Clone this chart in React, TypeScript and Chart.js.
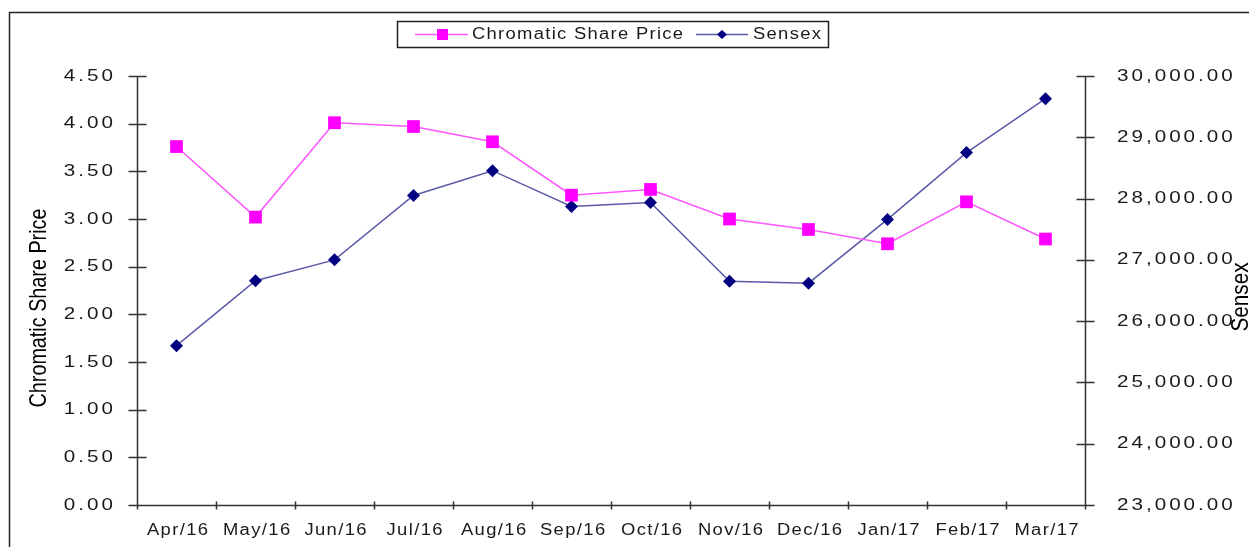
import React, { useEffect, useRef } from 'react';
import { Chart, registerables } from 'chart.js';

Chart.register(...registerables);

const months = ['Apr/16', 'May/16', 'Jun/16', 'Jul/16', 'Aug/16', 'Sep/16', 'Oct/16', 'Nov/16', 'Dec/16', 'Jan/17', 'Feb/17', 'Mar/17'];
const chromaticPrice = [3.76, 3.02, 4.01, 3.97, 3.81, 3.25, 3.31, 3.0, 2.89, 2.74, 3.18, 2.79];
const sensex = [25600, 26660, 27000, 28050, 28455, 27870, 27935, 26650, 26620, 27660, 28750, 29630];

const seriesNames = ['Chromatic Share Price', 'Sensex'];
const leftTitle = 'Chromatic Share Price';
const rightTitle = 'Sensex';

const PINK = '#FF00FF';
const PINK_LINE = '#FF55FF';
const NAVY = '#000080';
const NAVY_LINE = '#5A5AA8';
const FONT = '"Liberation Sans", Arial, sans-serif';
const NARROW = '"Liberation Sans Narrow", "Liberation Sans", Arial, sans-serif';

function fmtLeft(v: number) {
  return v.toFixed(2);
}
function fmtRight(v: number) {
  return v.toLocaleString('en-US', { minimumFractionDigits: 2, maximumFractionDigits: 2 });
}

function drawText(
  ctx: any,
  text: string,
  x: number,
  y: number,
  align: 'left' | 'right' | 'center',
  scaleX: number,
  spacing: number
) {
  ctx.save();
  ctx.letterSpacing = spacing + 'px';
  ctx.textAlign = 'left';
  const w = (ctx.measureText(text).width - spacing) * scaleX;
  let sx = x;
  if (align === 'right') sx = x - w;
  if (align === 'center') sx = x - w / 2;
  ctx.translate(sx, y);
  ctx.scale(scaleX, 1);
  ctx.fillText(text, 0, 0);
  ctx.restore();
}

function drawVertical(ctx: any, text: string, cx: number, cy: number, font: string, targetLen: number) {
  ctx.save();
  ctx.font = font;
  ctx.letterSpacing = '0px';
  const w = ctx.measureText(text).width;
  ctx.translate(cx, cy);
  ctx.rotate(-Math.PI / 2);
  ctx.scale(targetLen / w, 1);
  ctx.textAlign = 'center';
  ctx.textBaseline = 'middle';
  ctx.fillText(text, 0, 0);
  ctx.restore();
}

const decorPlugin = {
  id: 'decor',
  beforeDatasetsDraw(chart: any) {
    const { ctx, chartArea: a, scales } = chart;
    const xs = scales.x;
    const yl = scales.y;
    const yr = scales.y1;
    ctx.save();
    // outer frame
    ctx.strokeStyle = '#222';
    ctx.lineWidth = 1.5;
    ctx.beginPath();
    ctx.moveTo(9.5, 600);
    ctx.lineTo(9.5, 12.5);
    ctx.lineTo(1400, 12.5);
    ctx.stroke();

    // axes
    ctx.strokeStyle = '#333';
    ctx.lineWidth = 1.5;
    ctx.beginPath();
    const L = Math.round(a.left) + 0.5;
    const R = Math.round(a.right) + 0.5;
    const B = Math.round(a.bottom) + 0.5;
    ctx.moveTo(L, Math.round(a.top));
    ctx.lineTo(L, B);
    ctx.moveTo(R, Math.round(a.top));
    ctx.lineTo(R, B);
    ctx.moveTo(L - 9, B);
    ctx.lineTo(R + 9, B);
    yl.ticks.forEach((t: any) => {
      const py = Math.round(yl.getPixelForValue(t.value)) + 0.5;
      ctx.moveTo(L - 9, py);
      ctx.lineTo(L + 9, py);
    });
    yr.ticks.forEach((t: any) => {
      const py = Math.round(yr.getPixelForValue(t.value)) + 0.5;
      ctx.moveTo(R - 9, py);
      ctx.lineTo(R + 9, py);
    });
    for (let i = 0; i <= months.length; i++) {
      const px = Math.round(xs.getPixelForValue(i - 0.5)) + 0.5;
      ctx.moveTo(px, B - 4);
      ctx.lineTo(px, B + 4);
    }
    ctx.stroke();

    // tick labels
    ctx.fillStyle = '#1a1a1a';
    ctx.font = '16.5px ' + FONT;
    ctx.textBaseline = 'middle';
    yl.ticks.forEach((t: any) => {
      const py = yl.getPixelForValue(t.value);
      drawText(ctx, fmtLeft(t.value), 113, py, 'right', 1.25, 2.4);
    });
    yr.ticks.forEach((t: any) => {
      const py = yr.getPixelForValue(t.value);
      drawText(ctx, fmtRight(t.value), 1117, py, 'left', 1.25, 2.4);
    });
    ctx.font = '16px ' + FONT;
    ctx.textBaseline = 'alphabetic';
    months.forEach((m, i) => {
      const px = xs.getPixelForValue(i);
      drawText(ctx, m, px + 1, 535, 'center', 1.15, 1.2);
    });

    // axis titles
    ctx.fillStyle = '#000';
    drawVertical(ctx, leftTitle, 39, 308, '24px ' + NARROW, 199);
    drawVertical(ctx, rightTitle, 1241, 297, '24px ' + NARROW, 69);

    // legend
    ctx.strokeStyle = '#222';
    ctx.lineWidth = 1.5;
    ctx.strokeRect(397.5, 21.5, 431, 26);
    ctx.lineWidth = 1.5;
    ctx.strokeStyle = PINK_LINE;
    ctx.beginPath();
    ctx.moveTo(415, 34.5);
    ctx.lineTo(468, 34.5);
    ctx.stroke();
    ctx.fillStyle = PINK;
    ctx.fillRect(437, 29, 11, 11);
    ctx.strokeStyle = NAVY_LINE;
    ctx.beginPath();
    ctx.moveTo(696, 34.5);
    ctx.lineTo(748, 34.5);
    ctx.stroke();
    ctx.fillStyle = NAVY;
    ctx.beginPath();
    ctx.moveTo(722, 30);
    ctx.lineTo(727, 34.5);
    ctx.lineTo(722, 39);
    ctx.lineTo(717, 34.5);
    ctx.closePath();
    ctx.fill();
    ctx.fillStyle = '#1a1a1a';
    ctx.font = '16px ' + FONT;
    ctx.textBaseline = 'middle';
    drawText(ctx, seriesNames[0], 472, 35, 'left', 1.15, 1.13);
    drawText(ctx, seriesNames[1], 753, 35, 'left', 1.15, 1.13);
    ctx.restore();
  },
};

export default function App() {
  const canvasRef = useRef<HTMLCanvasElement | null>(null);

  useEffect(() => {
    document.body.style.margin = '0';
    const canvas = canvasRef.current;
    if (!canvas) return;
    const chart = new Chart(canvas, {
      type: 'line',
      data: {
        labels: months,
        datasets: [
          {
            label: seriesNames[0],
            data: chromaticPrice,
            yAxisID: 'y',
            borderColor: PINK_LINE,
            backgroundColor: PINK,
            borderWidth: 1.5,
            pointStyle: 'rect',
            pointRadius: 9,
            pointBorderWidth: 0,
            pointBackgroundColor: PINK,
            pointBorderColor: PINK,
            tension: 0,
          },
          {
            label: seriesNames[1],
            data: sensex,
            yAxisID: 'y1',
            borderColor: NAVY_LINE,
            backgroundColor: NAVY,
            borderWidth: 1.5,
            pointStyle: 'rectRot',
            pointRadius: 6.5,
            pointBorderWidth: 0,
            pointBackgroundColor: NAVY,
            pointBorderColor: NAVY,
            tension: 0,
          },
        ],
      },
      options: {
        responsive: false,
        animation: false,
        devicePixelRatio: 1,
        layout: { padding: { top: 76, left: 0, right: 0, bottom: 0 } },
        plugins: {
          legend: { display: false },
          title: { display: false },
          tooltip: { enabled: false },
        },
        scales: {
          x: {
            type: 'category',
            offset: true,
            grid: { display: false, offset: true },
            border: { display: false },
            ticks: { display: false },
            afterFit: (s: any) => {
              s.height = 42;
            },
          },
          y: {
            position: 'left',
            min: 0,
            max: 4.5,
            ticks: { display: false, stepSize: 0.5 },
            grid: { display: false },
            border: { display: false },
            afterFit: (s: any) => {
              s.width = 137;
            },
          },
          y1: {
            position: 'right',
            min: 23000,
            max: 30000,
            ticks: { display: false, stepSize: 1000 },
            grid: { display: false },
            border: { display: false },
            afterFit: (s: any) => {
              s.width = 164;
            },
          },
        },
      },
      plugins: [decorPlugin],
    } as any);
    return () => chart.destroy();
  }, []);

  return (
    <div style={{ position: 'absolute', left: 0, top: 0, width: 1249, height: 547, background: '#fff' }}>
      <canvas ref={canvasRef} width={1249} height={547} style={{ display: 'block' }} />
    </div>
  );
}
